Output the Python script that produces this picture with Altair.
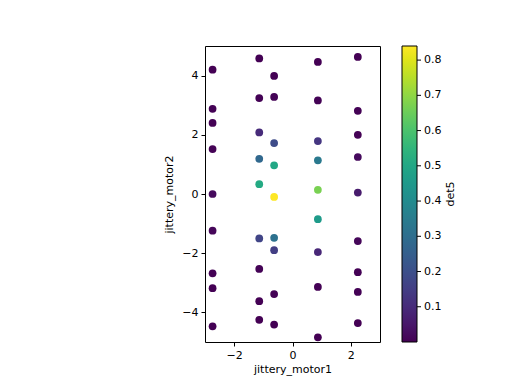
import altair as alt
import pandas as pd

x_cols = [-2.74, -1.14, -0.63, 0.87, 2.24]
y_c1 = [4.20, 2.88, 2.40, 1.52, 0.00, -1.24, -2.68, -3.18, -4.47]
y_c2 = [4.58, 3.24, 2.08, 1.19, 0.33, -1.50, -2.53, -3.62, -4.25]
y_c3 = [3.99, 3.28, 1.72, 0.97, -0.10, -1.48, -1.90, -3.38, -4.41]
y_c4 = [4.46, 3.16, 1.79, 1.14, 0.14, -0.85, -1.96, -3.14, -4.84]
y_c5 = [4.63, 2.81, 2.00, 1.25, 0.05, -1.59, -2.64, -3.31, -4.36]
d_c1 = [0.001, 0.002, 0.003, 0.005, 0.02, 0.01, 0.002, 0.001, 0.0005]
d_c2 = [0.001, 0.003, 0.10, 0.28, 0.51, 0.17, 0.004, 0.001, 0.001]
d_c3 = [0.002, 0.004, 0.19, 0.50, 0.84, 0.31, 0.15, 0.002, 0.001]
d_c4 = [0.001, 0.003, 0.13, 0.34, 0.67, 0.46, 0.09, 0.003, 0.0003]
d_c5 = [0.001, 0.002, 0.005, 0.02, 0.06, 0.01, 0.003, 0.002, 0.001]
cbar_ticks = [0.1, 0.2, 0.3, 0.4, 0.5, 0.6, 0.7, 0.8]
cbar_domain = [0.0, 0.84]

rows = []
for xv, ys, ds in zip(x_cols, [y_c1, y_c2, y_c3, y_c4, y_c5],
                      [d_c1, d_c2, d_c3, d_c4, d_c5]):
    for yv, dv in zip(ys, ds):
        rows.append({"jittery_motor1": xv, "jittery_motor2": yv, "det5": dv})
df = pd.DataFrame(rows)

font = "DejaVu Sans"

points = alt.Chart(df).mark_circle(size=60, opacity=1).encode(
    x=alt.X("jittery_motor1:Q",
            scale=alt.Scale(domain=[-3, 3], nice=False, zero=False),
            axis=alt.Axis(values=[-2, 0, 2], grid=False, tickSize=4, labelPadding=3,
                          domain=False, titlePadding=3, format="~r")),
    y=alt.Y("jittery_motor2:Q",
            scale=alt.Scale(domain=[-5, 5], nice=False, zero=False),
            axis=alt.Axis(values=[-4, -2, 0, 2, 4], grid=False, tickSize=4, labelPadding=3,
                          domain=False, titlePadding=7)),
    color=alt.Color("det5:Q",
                    scale=alt.Scale(scheme="viridis", domain=cbar_domain, nice=False, zero=False),
                    legend=alt.Legend(orient="none", legendX=197, legendY=0, title=None,
                                      direction="vertical", gradientLength=296,
                                      gradientThickness=15, gradientStrokeColor="black",
                                      gradientStrokeWidth=1, padding=0,
                                      values=cbar_ticks,
                                      labelFontSize=11, labelFont=font, labelColor="black",
                                      labelOffset=7, labelOverlap=False)),
)

tick_df = pd.DataFrame({"v": cbar_ticks})
cbar_tick_marks = alt.Chart(tick_df).mark_rule(color="black", strokeWidth=1).encode(
    y=alt.Y("v:Q", scale=alt.Scale(domain=cbar_domain, nice=False, zero=False), axis=None),
    x=alt.value(212), x2=alt.value(216),
)

title_df = pd.DataFrame({"t": ["det5"]})
cbar_title = alt.Chart(title_df).mark_text(
    angle=270, fontSize=11, font=font, color="black", baseline="middle", align="center"
).encode(text="t:N", x=alt.value(246), y=alt.value(148))

chart = alt.layer(points, cbar_tick_marks, cbar_title).resolve_scale(
    y="independent"
).properties(
    width=175, height=296,
    autosize=alt.AutoSizeParams(type="none"),
    padding={"left": 197, "top": 38, "right": 124, "bottom": 34},
).configure_view(stroke="black", strokeWidth=1).configure_axis(
    labelFont=font, titleFont=font, labelFontSize=11, titleFontSize=11,
    labelColor="black", titleColor="black", tickColor="black", titleFontWeight="normal",
)

chart.save("out.html", embed_options={"renderer": "svg", "actions": False})
